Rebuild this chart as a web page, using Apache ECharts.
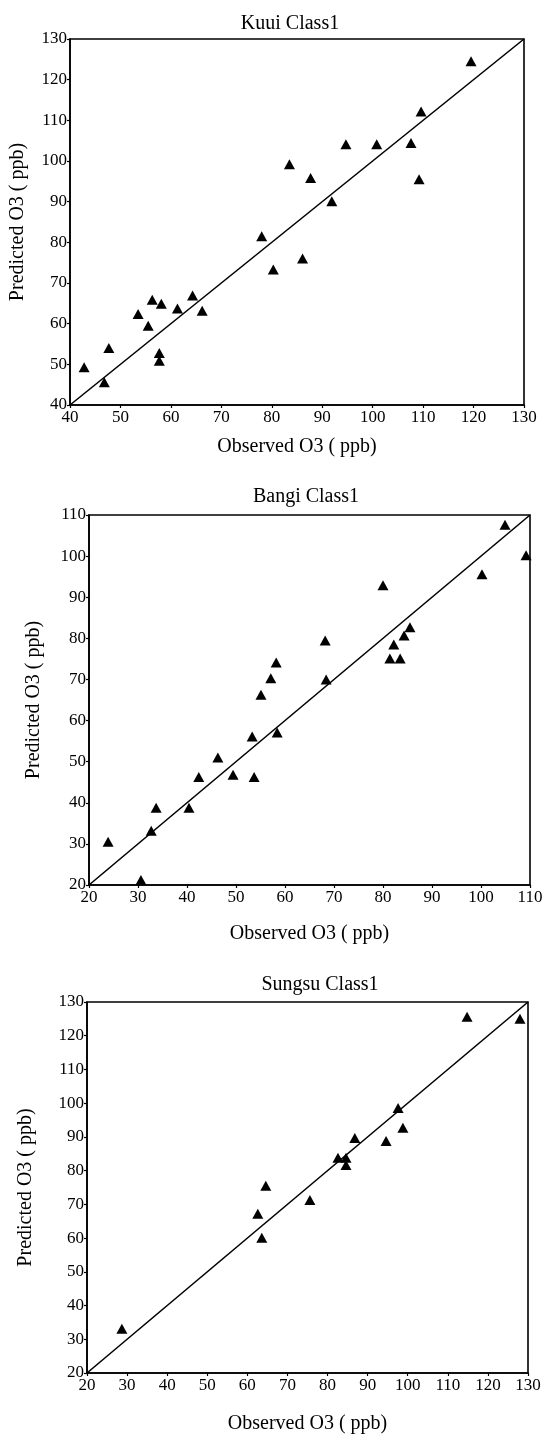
<!DOCTYPE html>
<html>
<head>
<meta charset="utf-8">
<script src="https://cdn.jsdelivr.net/npm/echarts@6/dist/echarts.min.js"></script>
<style>
html,body{margin:0;padding:0;background:#fff;}
#chart{width:547px;height:1435px;}
</style>
</head>
<body>
<div id="chart"></div>
<script>
// ---- Data ----
const panelTitles = ['Kuui Class1', 'Bangi Class1', 'Sungsu Class1'];
const xAxisName = 'Observed O3 ( ppb)';
const yAxisName = 'Predicted O3 ( ppb)';

// [observed, predicted]
const kuuiPoints = [
  [42.8, 49.3], [46.8, 45.6], [47.7, 54.0], [53.5, 62.4], [55.5, 59.5],
  [56.3, 65.9], [58.1, 64.9], [57.7, 52.8], [57.7, 50.9], [61.3, 63.7],
  [64.3, 66.9], [66.2, 63.2], [78.0, 81.5], [80.3, 73.3], [86.1, 76.0],
  [91.9, 90.1], [83.5, 99.2], [87.7, 95.8], [94.7, 104.1], [100.8, 104.1],
  [107.6, 104.4], [109.2, 95.5], [109.6, 112.2], [119.5, 124.5]
];
const bangiPoints = [
  [23.9, 30.5], [30.6, 21.2], [32.7, 33.2], [33.7, 38.8], [40.4, 38.8],
  [42.4, 46.3], [46.3, 51.0], [49.4, 46.8], [53.7, 46.3], [53.3, 56.1],
  [55.1, 66.3], [57.1, 70.3], [58.2, 74.1], [58.4, 57.1], [68.4, 70.0],
  [68.2, 79.5], [80.0, 92.9], [81.4, 75.1], [83.5, 75.1], [82.2, 78.5],
  [84.3, 80.7], [85.5, 82.7], [100.2, 95.6], [104.9, 107.6], [109.2, 100.2]
];
const sungsuPoints = [
  [28.7, 33.1], [62.6, 67.2], [64.6, 75.5], [63.6, 60.1], [75.6, 71.3],
  [82.6, 83.8], [84.6, 83.8], [84.6, 81.7], [86.8, 89.7], [94.6, 88.8],
  [97.6, 98.6], [98.8, 92.7], [114.8, 125.6], [128.0, 125.0]
];
// axis ranges [min, max, interval]
const kuuiRange = [40, 130, 10];
const bangiRange = [20, 110, 10];
const sungsuRange = [20, 130, 10];

// ---- Layout ----
const grids = [
  {left: 70, top: 39, width: 454, height: 366},
  {left: 89, top: 515, width: 441, height: 370},
  {left: 87, top: 1002, width: 441, height: 371}
];
const titleCenters = [[285, 9], [301, 482], [315, 970]];
const xNameGaps = [32, 39, 41];
const yNameGaps = [42, 45, 51];

const ranges = [kuuiRange, bangiRange, sungsuRange];
const pointsArr = [kuuiPoints, bangiPoints, sungsuPoints];

const FONT = 'Liberation Serif';
const black = '#000';

const option = {
  backgroundColor: '#fff',
  animation: false,
  title: panelTitles.map((t, i) => ({
    text: t,
    left: titleCenters[i][0],
    top: titleCenters[i][1],
    textAlign: 'center',
    textStyle: {fontFamily: FONT, fontSize: 20, fontWeight: 'normal', color: black}
  })),
  grid: grids.map(g => Object.assign({show: true, borderColor: black, borderWidth: 1.6, backgroundColor: 'transparent', containLabel: false}, g)),
  xAxis: ranges.map((r, i) => ({
    type: 'value', gridIndex: i, min: r[0], max: r[1], interval: r[2],
    name: xAxisName, nameLocation: 'middle', nameGap: xNameGaps[i],
    nameTextStyle: {fontFamily: FONT, fontSize: 20, color: black},
    axisLine: {show: true, onZero: false, lineStyle: {color: black, width: 1.6}},
    axisTick: {show: true, inside: false, length: 3, lineStyle: {color: black, width: 1.2}},
    axisLabel: {fontFamily: FONT, fontSize: 17, color: black, margin: 4},
    splitLine: {show: false}
  })),
  yAxis: ranges.map((r, i) => ({
    type: 'value', gridIndex: i, min: r[0], max: r[1], interval: r[2],
    name: yAxisName, nameLocation: 'middle', nameGap: yNameGaps[i],
    nameTextStyle: {fontFamily: FONT, fontSize: 20, color: black},
    axisLine: {show: true, onZero: false, lineStyle: {color: black, width: 1.6}},
    axisTick: {show: true, inside: false, length: 3, lineStyle: {color: black, width: 1.2}},
    axisLabel: {fontFamily: FONT, fontSize: 17, color: black, margin: 3},
    splitLine: {show: false}
  })),
  series: []
};

ranges.forEach((r, i) => {
  option.series.push({
    type: 'line', xAxisIndex: i, yAxisIndex: i,
    data: [[r[0], r[0]], [r[1], r[1]]],
    showSymbol: false, symbol: 'none', silent: true,
    lineStyle: {color: black, width: 1.6}
  });
  option.series.push({
    type: 'scatter', xAxisIndex: i, yAxisIndex: i,
    data: pointsArr[i],
    symbol: 'triangle', symbolSize: [11, 10],
    itemStyle: {color: black, opacity: 1}
  });
});

const chart = echarts.init(document.getElementById('chart'), null, {renderer: 'canvas'});
chart.setOption(option);
</script>
</body>
</html>
